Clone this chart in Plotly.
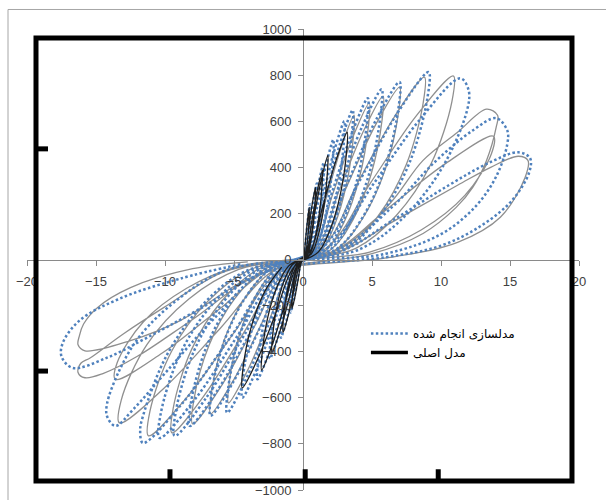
import plotly.graph_objects as go

# Force–displacement hysteresis: test record (grey / black) vs. numerical model (blue dots)

# Early small test cycles (black)
test_early_x = [0.0,
    0.07, 0.2, 0.34, 0.45, 0.45, 0.38, 0.28, 0.16,
    -0.12, -0.36, -0.6, -0.8, -0.79, -0.68, -0.5, -0.28,
    0.14, 0.41, 0.68, 0.9, 0.89, 0.77, 0.56, 0.32,
    -0.22, -0.65, -1.09, -1.45, -1.44, -1.23, -0.9, -0.51,
    0.21, 0.63, 1.05, 1.4, 1.39, 1.19, 0.87, 0.49,
    -0.34, -1.01, -1.69, -2.25, -2.23, -1.91, -1.4, -0.79,
    0.27, 0.81, 1.35, 1.8, 1.78, 1.53, 1.12, 0.63,
    -0.45, -1.35, -2.25, -3.0, -2.97, -2.55, -1.86, -1.05,
    0.48, 1.44, 2.4, 3.2, 3.17, 2.72, 1.98, 1.12,
    -0.66, -1.98, -3.3, -4.4, -4.36, -3.74, -2.73, -1.54]
test_early_y = [0,
    14, 95, 176, 226, 194, 118, 54, 14,
    -13, -89, -166, -213, -183, -111, -51, -13,
    19, 131, 244, 313, 269, 163, 75, 19,
    -19, -133, -247, -317, -273, -165, -76, -19,
    23, 163, 302, 387, 333, 201, 93, 23,
    -24, -170, -315, -404, -347, -210, -97, -24,
    27, 190, 353, 452, 389, 235, 108, 27,
    -29, -202, -374, -480, -413, -250, -115, -29,
    33, 232, 431, 552, 475, 287, 132, 33,
    -33, -234, -434, -557, -479, -290, -134, -33]

# Larger test cycles (grey)
test_x = [-1.54,
    0.56, 1.67, 2.78, 3.7, 3.66, 3.15, 2.29, 1.3,
    -0.81, -2.43, -4.05, -5.4, -5.35, -4.59, -3.35, -1.89,
    0.72, 2.16, 3.6, 4.8, 4.75, 4.08, 2.98, 1.68,
    -1.0, -3.02, -5.03, -6.7, -6.63, -5.7, -4.15, -2.35,
    0.87, 2.61, 4.35, 5.8, 5.74, 4.93, 3.6, 2.03,
    -1.2, -3.6, -6.0, -8.0, -7.92, -6.8, -4.96, -2.8,
    1.05, 3.15, 5.25, 7.0, 6.93, 5.95, 4.34, 2.45,
    -1.43, -4.28, -7.13, -9.5, -9.41, -8.08, -5.89, -3.33,
    1.32, 3.96, 6.6, 8.8, 8.71, 7.48, 5.46, 3.08,
    -1.68, -5.04, -8.4, -11.2, -11.09, -9.52, -6.94, -3.92,
    1.64, 4.91, 8.18, 10.9, 10.79, 9.27, 6.76, 3.82,
    -2.0, -5.99, -9.98, -13.3, -13.17, -11.31, -8.25, -4.66,
    2.5, 6.3, 8.7, 11.2, 13.3, 14.1, 14.0, 13.3, 12.3, 11.1, 8.7, 5.0,
    -3.0, -8.0, -12.0, -14.5, -15.8, -16.3, -16.1, -15.4, -13.0, -10.1, -6.0, -3.0,
    2.07, 6.21, 10.35, 13.8, 13.66, 11.73, 8.56, 4.83,
    -2.04, -6.12, -10.2, -13.6, -13.46, -11.56, -8.43, -4.76,
    2.5, 6.3, 11.2, 13.6, 15.6, 16.3, 16.1, 14.3, 11.2, 6.3,
    -3.0, -8.9, -12.5, -15.8, -16.3, -16.2, -15.9, -14.9, -12.5, -8.0, -4.0]
test_y = [-33,
    38, 263, 488, 626, 538, 326, 150, 38,
    -37, -261, -485, -622, -535, -323, -149, -37,
    41, 285, 529, 678, 583, 353, 163, 41,
    -40, -281, -523, -670, -576, -348, -161, -40,
    43, 298, 553, 709, 610, 369, 170, 43,
    -43, -299, -556, -713, -613, -371, -171, -43,
    45, 314, 583, 748, 643, 389, 180, 45,
    -45, -316, -587, -752, -647, -391, -180, -45,
    47, 332, 617, 791, 680, 411, 190, 47,
    -46, -321, -597, -765, -658, -398, -184, -46,
    48, 334, 621, 796, 685, 414, 191, 48,
    -43, -298, -553, -709, -610, -369, -170, -43,
    40, 243, 430, 552, 652, 626, 574, 430, 313, 226, 113, 25,
    -60, -260, -420, -495, -513, -490, -450, -426, -322, -209, -60, -15,
    32, 225, 417, 535, 460, 278, 128, 32,
    -31, -218, -406, -520, -447, -270, -125, -31,
    30, 157, 322, 400, 448, 430, 357, 183, 74, 9,
    -60, -265, -352, -396, -370, -330, -280, -209, -122, -40, -10]

# Numerical model cycles (blue dotted)
model_x = [0.0,
    0.08, 0.23, 0.38, 0.5, 0.5, 0.43, 0.31, 0.18,
    -0.14, -0.41, -0.68, -0.9, -0.89, -0.77, -0.56, -0.32,
    0.15, 0.45, 0.75, 1.0, 0.99, 0.85, 0.62, 0.35,
    -0.24, -0.72, -1.2, -1.6, -1.58, -1.36, -0.99, -0.56,
    0.23, 0.68, 1.13, 1.5, 1.49, 1.28, 0.93, 0.53,
    -0.36, -1.08, -1.8, -2.4, -2.38, -2.04, -1.49, -0.84,
    0.33, 0.99, 1.65, 2.2, 2.18, 1.87, 1.36, 0.77,
    -0.5, -1.49, -2.48, -3.3, -3.27, -2.81, -2.05, -1.16,
    0.45, 1.35, 2.25, 3.0, 2.97, 2.55, 1.86, 1.05,
    -0.66, -1.98, -3.3, -4.4, -4.36, -3.74, -2.73, -1.54,
    0.54, 1.62, 2.7, 3.6, 3.56, 3.06, 2.23, 1.26,
    -0.83, -2.48, -4.13, -5.5, -5.45, -4.68, -3.41, -1.93,
    0.71, 2.12, 3.53, 4.7, 4.65, 4.0, 2.91, 1.65,
    -1.0, -3.02, -5.03, -6.7, -6.63, -5.7, -4.15, -2.35,
    0.86, 2.57, 4.28, 5.7, 5.64, 4.85, 3.53, 2.0,
    -1.23, -3.69, -6.15, -8.2, -8.12, -6.97, -5.08, -2.87,
    1.05, 3.15, 5.25, 7.0, 6.93, 5.95, 4.34, 2.45,
    -1.4, -4.19, -6.98, -9.3, -9.21, -7.91, -5.77, -3.26,
    1.37, 4.1, 6.83, 9.1, 9.01, 7.74, 5.64, 3.19,
    -1.56, -4.68, -7.8, -10.4, -10.3, -8.84, -6.45, -3.64,
    1.71, 5.13, 8.55, 11.4, 12.0, 11.9, 10.2, 7.4, 4.2,
    -1.74, -5.22, -8.7, -11.6, -11.8, -11.6, -9.86, -7.19, -4.06,
    2.5, 6.5, 9.5, 12.3, 14.0, 14.8, 14.8, 14.0, 12.5, 10.0, 6.0,
    -2.5, -6.5, -9.8, -12.3, -13.6, -14.2, -14.2, -13.3, -11.8, -9.0, -5.5,
    2.5, 6.5, 10.5, 13.5, 15.6, 16.45, 16.4, 15.2, 13.0, 10.0, 6.0,
    -2.5, -7.7, -11.3, -14.2, -16.7, -17.5, -17.4, -16.2, -13.3, -8.9, -4.5]
model_y = [0,
    14, 101, 187, 240, 206, 125, 58, 14,
    -14, -97, -179, -230, -198, -120, -55, -14,
    20, 139, 257, 330, 284, 172, 79, 20,
    -20, -143, -265, -340, -292, -177, -82, -20,
    25, 176, 328, 420, 361, 218, 101, 25,
    -26, -181, -335, -430, -370, -224, -103, -26,
    31, 218, 406, 520, 447, 270, 125, 31,
    -31, -218, -406, -520, -447, -270, -125, -31,
    36, 252, 468, 600, 516, 312, 144, 36,
    -36, -252, -468, -600, -516, -312, -144, -36,
    39, 272, 505, 648, 557, 337, 156, 39,
    -40, -279, -519, -665, -572, -346, -160, -40,
    42, 294, 546, 700, 602, 364, 168, 42,
    -41, -285, -529, -678, -583, -353, -163, -41,
    44, 310, 576, 739, 636, 384, 177, 44,
    -43, -303, -563, -722, -621, -375, -173, -43,
    46, 323, 601, 770, 662, 400, 185, 46,
    -46, -321, -597, -765, -658, -398, -184, -46,
    49, 341, 634, 813, 699, 423, 195, 49,
    -46, -325, -604, -774, -666, -402, -186, -46,
    47, 330, 613, 786, 735, 650, 410, 189, 47,
    -48, -334, -621, -796, -740, -680, -414, -191, -48,
    40, 230, 420, 560, 613, 560, 500, 360, 230, 110, 25,
    -40, -260, -480, -650, -722, -680, -626, -480, -330, -170, -45,
    30, 170, 320, 420, 465, 440, 380, 260, 150, 60, 10,
    -50, -222, -339, -426, -470, -420, -361, -265, -170, -83, -20]

x_ticks = [-20, -15, -10, -5, 0, 5, 10, 15, 20]
y_ticks = [-1000, -800, -600, -400, -200, 0, 200, 400, 600, 800, 1000]

legend_model = "مدلسازی انجام شده"
legend_test = "مدل اصلی"

BLUE = "#4F81BD"
GREY = "#8f8f8f"
DOTS = "2.5px,2.4px"

fig = go.Figure()

fig.add_trace(go.Scatter(
    x=test_x, y=test_y, mode="lines", showlegend=False, hoverinfo="skip",
    line=dict(color=GREY, width=1.3, shape="spline", smoothing=1.0)))
fig.add_trace(go.Scatter(
    x=model_x, y=model_y, mode="lines", showlegend=False, hoverinfo="skip",
    line=dict(color=BLUE, width=2.5, dash=DOTS, shape="spline", smoothing=1.0)))
fig.add_trace(go.Scatter(
    x=test_early_x, y=test_early_y, mode="lines", showlegend=False, hoverinfo="skip",
    line=dict(color="#1e1e1e", width=1.3, shape="spline", smoothing=1.0)))

# legend keys
fig.add_trace(go.Scatter(
    x=[None], y=[None], mode="lines", name=legend_model,
    line=dict(color=BLUE, width=2.5, dash=DOTS)))
fig.add_trace(go.Scatter(
    x=[None], y=[None], mode="lines", name=legend_test,
    line=dict(color="black", width=3.5)))

axis_common = dict(
    showgrid=False, zeroline=False, showline=True, linecolor="#8a8a8a", linewidth=1,
    ticks="outside", ticklen=5, tickcolor="#8a8a8a", tickwidth=1,
    tickfont=dict(family="Liberation Sans, Arial, sans-serif", size=13, color="#404040"),
    anchor="free", position=0.5, fixedrange=True, automargin=False,
)

fig.update_layout(
    width=606, height=500,
    margin=dict(l=27, r=27, t=29, b=10, autoexpand=False),
    paper_bgcolor="white", plot_bgcolor="white",
    xaxis=dict(range=[-20, 20], tickvals=x_ticks, ticklabelstandoff=5, **axis_common),
    yaxis=dict(range=[-1000, 1000], tickvals=y_ticks, ticklabelstandoff=4, **axis_common),
    legend=dict(
        x=0.614, y=0.371, xanchor="left", yanchor="top",
        bgcolor="rgba(0,0,0,0)", borderwidth=0, itemwidth=37,
        font=dict(family="DejaVu Sans", size=12, color="black"),
    ),
)

# outer thin frame and thick chart box with its short ticks
shapes = [
    dict(type="rect", xref="paper", yref="paper", x0=-0.0344, x1=1.06, y0=-0.06, y1=1.0423,
         line=dict(color="#a6a6a6", width=1), layer="below"),
    dict(type="rect", xref="paper", yref="paper", x0=0.0163, x1=0.9873, y0=0.0195, y1=0.9805,
         line=dict(color="black", width=5), layer="above"),
]
for py in (0.74, 0.258):
    shapes.append(dict(type="line", xref="paper", yref="paper", x0=0.0163, x1=0.038,
                       y0=py, y1=py, line=dict(color="black", width=5)))
for px in (0.259, 0.504, 0.745):
    shapes.append(dict(type="line", xref="paper", yref="paper", x0=px, x1=px,
                       y0=0.0195, y1=0.045, line=dict(color="black", width=5)))
fig.update_layout(shapes=shapes)

fig.write_html("out.html")
